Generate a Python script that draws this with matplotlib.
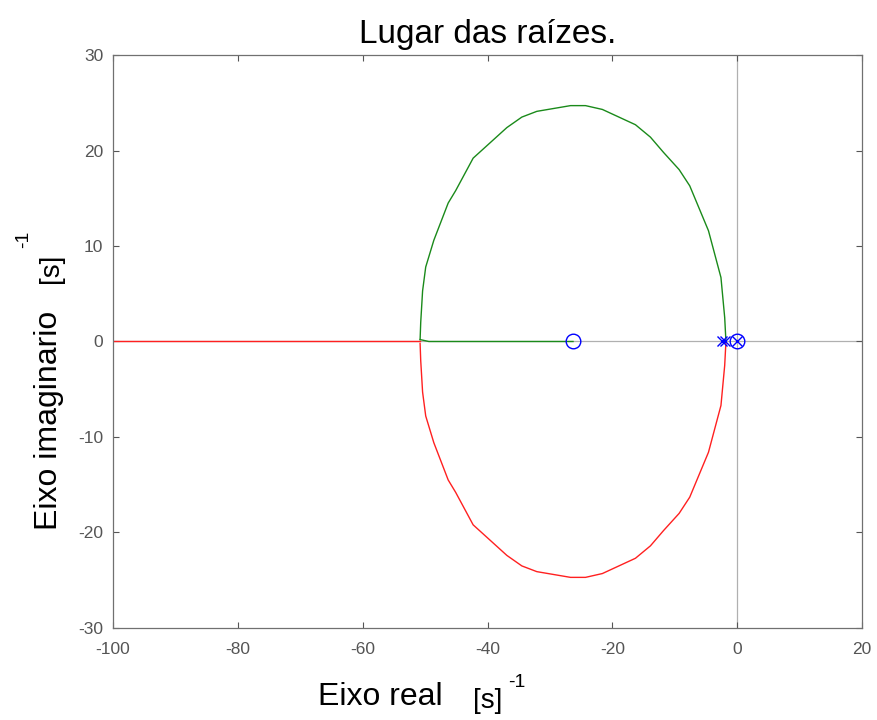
import numpy as np
import matplotlib.pyplot as plt

plt.rcParams['font.family'] = ['Liberation Sans', 'DejaVu Sans']
plt.rcParams['axes.unicode_minus'] = False

# Ramo superior do lugar das raizes (parte real, parte imaginaria)
arco_re = [-1.8, -2.0, -2.6, -4.6, -7.6, -9.3, -11.8, -13.9, -16.3, -21.6, -24.3,
           -26.7, -32.1, -34.5, -36.9, -42.3, -45.1, -46.3, -48.6, -49.9, -50.4,
           -50.7, -50.8]
arco_im = [0.0, 2.5, 6.7, 11.6, 16.3, 18.0, 19.8, 21.4, 22.7, 24.3, 24.7,
           24.7, 24.1, 23.5, 22.4, 19.2, 15.8, 14.5, 10.6, 7.8, 5.3,
           2.0, 0.2]

# Trecho sobre o eixo real
verde_eixo_re = [-50.8, -49.4, -26.3]
verde_eixo_im = [0.2, 0.0, 0.0]
vermelho_eixo_re = [-50.8, -100.0]
vermelho_eixo_im = [0.0, 0.0]

# Polos e zeros
polos_re = [-2.4, -1.9, -0.1]
polos_im = [0.0, 0.0, 0.0]
zeros_re = [-26.3, 0.0]
zeros_im = [0.0, 0.0]

fig = plt.figure(figsize=(8.78, 7.2), dpi=100)
ax = fig.add_axes([0.1287, 0.1278, 0.8531, 0.7958])

ax.axhline(0, color='#b0b0b0', lw=0.9, zorder=1)
ax.axvline(0, color='#b0b0b0', lw=0.9, zorder=1)

verde = '#1a8a1a'
vermelho = '#ff2020'
ax.plot(arco_re, arco_im, color=verde, lw=1.0)
ax.plot(verde_eixo_re, verde_eixo_im, color=verde, lw=1.0)
ax.plot(arco_re, [-v for v in arco_im], color=vermelho, lw=1.0)
ax.plot(vermelho_eixo_re, vermelho_eixo_im, color=vermelho, lw=1.0)

ax.plot(polos_re, polos_im, 'x', color='#0000ff', ms=7, mew=1.0)
ax.plot(zeros_re, zeros_im, 'o', mfc='none', mec='#0000ff', ms=10.5, mew=1.0)

ax.set_xlim(-100, 20)
ax.set_ylim(-30, 30)
ax.set_xticks(np.arange(-100, 21, 20))
ax.set_yticks(np.arange(-30, 31, 10))
ax.tick_params(direction='in', top=True, right=True, length=4, width=0.8,
               colors='#555555', labelsize=12.5, labelcolor='#555555')
ax.tick_params(axis='x', pad=10)
ax.tick_params(axis='y', pad=7)
for s in ax.spines.values():
    s.set_color('#707070')
    s.set_linewidth(0.9)

ax.set_title('Lugar das raízes.', fontsize=24, pad=9)

# Rotulos dos eixos com a unidade [s]^-1 em textos separados
fig.text(0.362, 0.021, 'Eixo real', fontsize=23, ha='left', va='baseline')
fig.text(0.539, 0.016, '[s]', fontsize=20, ha='left', va='baseline')
fig.text(0.579, 0.046, '-1', fontsize=14, ha='left', va='baseline')

fig.text(0.065, 0.264, 'Eixo imaginario', fontsize=23, rotation=90,
         ha='left', va='baseline', rotation_mode='anchor')
fig.text(0.066, 0.607, '[s]', fontsize=20, rotation=90,
         ha='left', va='baseline', rotation_mode='anchor')
fig.text(0.032, 0.656, '-1', fontsize=14, rotation=90,
         ha='left', va='baseline', rotation_mode='anchor')

fig.savefig('out.png', dpi=100)
